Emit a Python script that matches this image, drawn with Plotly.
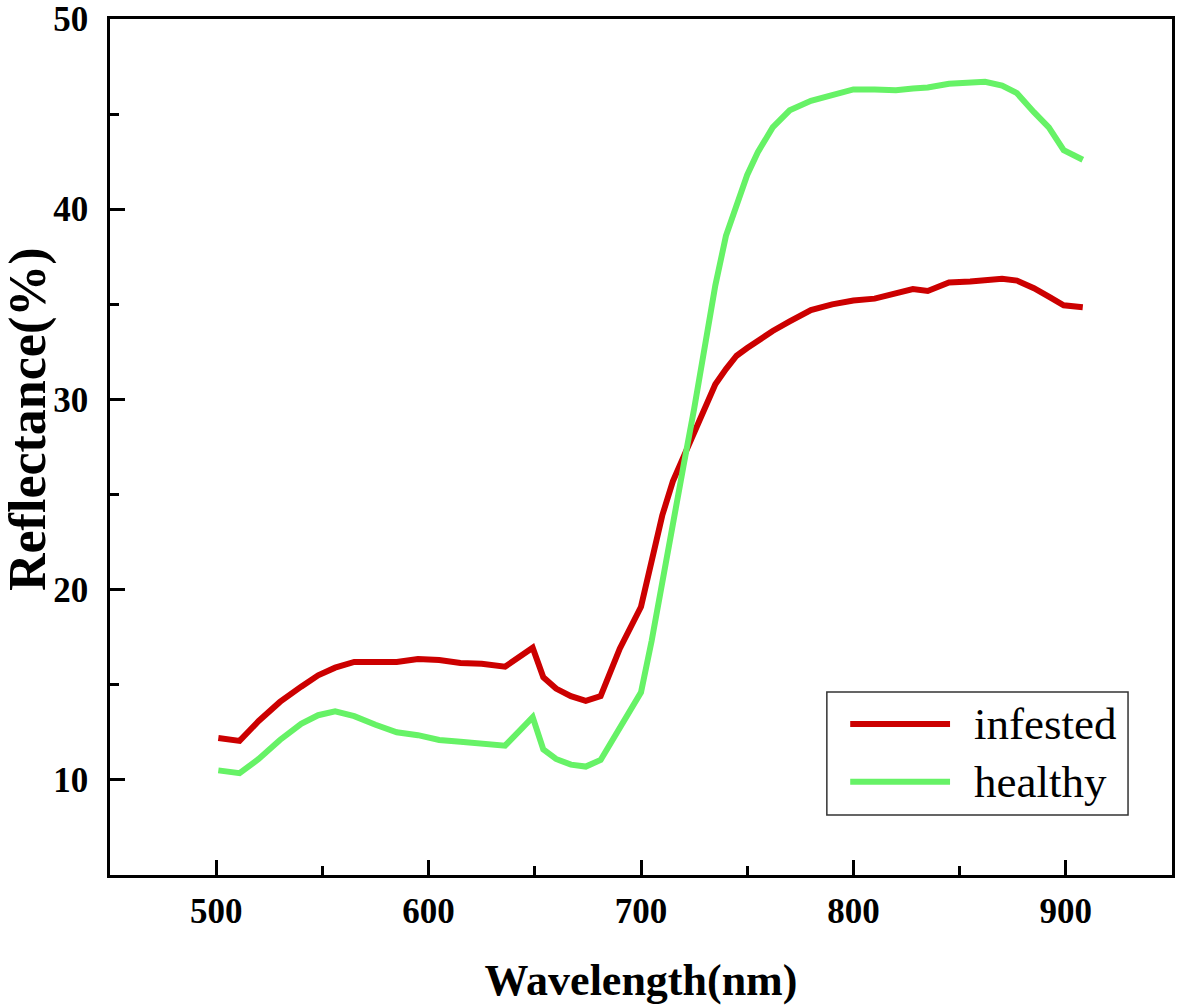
import plotly.graph_objects as go

# spectra
wavelength = [501, 505, 511, 520, 530, 540, 548, 556, 565, 575, 585, 595, 605, 615,
              625, 636, 643, 649, 654, 660, 667, 674, 681, 690, 700, 705, 710, 715,
              720, 725, 730, 735, 740, 745, 750, 755, 762, 770, 780, 790, 800, 810,
              820, 828, 835, 845, 855, 862, 870, 877, 885, 892, 899, 908]

infested = [12.2, 12.15, 12.05, 13.1, 14.1, 14.9, 15.5, 15.9, 16.2, 16.2, 16.2, 16.35,
            16.3, 16.15, 16.1, 15.95, 16.5, 16.95, 15.4, 14.8, 14.4, 14.15, 14.4, 16.9,
            19.1, 21.5, 23.9, 25.7, 27.0, 28.2, 29.5, 30.8, 31.6, 32.3, 32.7, 33.1,
            33.6, 34.1, 34.7, 35.0, 35.2, 35.3, 35.6, 35.8, 35.7, 36.15, 36.2, 36.3,
            36.35, 36.25, 35.85, 35.4, 34.95, 34.85]

healthy = [10.5, 10.45, 10.35, 11.1, 12.1, 12.95, 13.4, 13.6, 13.35, 12.9, 12.5, 12.35,
           12.1, 12.0, 11.9, 11.8, 12.6, 13.3, 11.6, 11.1, 10.8, 10.7, 11.05, 12.8,
           14.6, 17.3, 20.5, 23.5, 26.5, 29.5, 32.9, 36.0, 38.6, 40.2, 41.8, 43.0,
           44.3, 45.2, 45.7, 46.0, 46.3, 46.3, 46.25, 46.35, 46.4, 46.6, 46.65, 46.7,
           46.5, 46.1, 45.1, 44.3, 43.1, 42.6]

names = ['infested', 'healthy']
colors = ['#cc0000', '#66f266']

serif = 'Liberation Serif'

fig = go.Figure()
for name, vals, col in zip(names, [infested, healthy], colors):
    fig.add_trace(go.Scatter(x=wavelength, y=vals, mode='lines', name=name,
                             line=dict(color=col, width=6), showlegend=False))

axis_common = dict(showline=True, linecolor='black', linewidth=2.5, mirror=True,
                   showgrid=False, zeroline=False, ticks='inside', ticklen=15,
                   tickwidth=2.5, tickcolor='black', automargin=False,
                   tickfont=dict(family=serif, size=35, color='black', weight='bold'),
                   minor=dict(ticks='inside', ticklen=9, tickwidth=2.5, tickcolor='black'))

fig.update_xaxes(range=[450, 950], dtick=100, tick0=500, minor_dtick=50,
                 ticklabelstandoff=3,
                 title=dict(text='Wavelength(nm)', standoff=35,
                            font=dict(family=serif, size=44, color='black', weight='bold')),
                 **axis_common)
fig.update_yaxes(range=[5, 50], dtick=10, tick0=10, minor_dtick=5,
                 ticklabelstandoff=12, **axis_common)

# y title sits a bit above the axis centre in the original, so place it by hand
fig.add_annotation(xref='paper', yref='paper', x=0, xshift=-82, y=0.5327,
                   text='Reflectance(%)', textangle=-90, showarrow=False,
                   xanchor='center', yanchor='middle',
                   font=dict(family=serif, size=52, color='black', weight='bold'))

# legend drawn by hand so the sample lines can be long like in the original
fig.add_shape(type='rect', xref='paper', yref='paper', x0=0.675, x1=0.9586,
              y0=0.0701, y1=0.2138, line=dict(color='#333333', width=1.5))
for i, (name, col) in enumerate(zip(names, colors)):
    yy = 0.1764 - i * 0.0674
    fig.add_shape(type='line', xref='paper', yref='paper', x0=0.697, x1=0.791,
                  y0=yy, y1=yy, line=dict(color=col, width=6))
    fig.add_annotation(xref='paper', yref='paper', x=0.8117, y=yy, text=name,
                       showarrow=False, xanchor='left', yanchor='middle',
                       font=dict(family=serif, size=45, color='black'))

fig.update_layout(width=1181, height=1008, plot_bgcolor='white', paper_bgcolor='white',
                  margin=dict(l=110, r=9, t=19, b=133))

# drop the default page margin so the figure sits flush in the window
fig.write_html('out.html', config={'displayModeBar': False},
               post_script="document.body.style.margin='0';")
